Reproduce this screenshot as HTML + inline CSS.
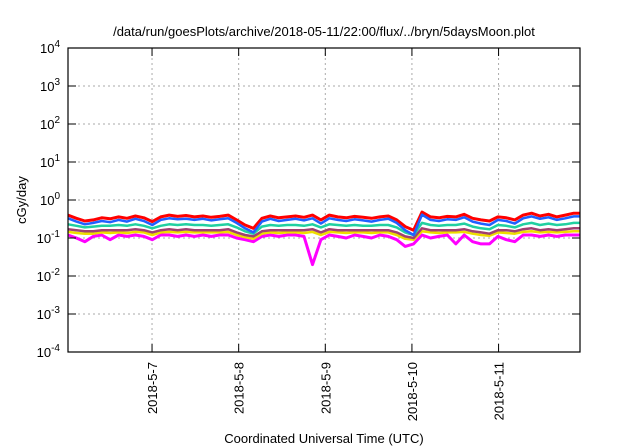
<!DOCTYPE html>
<html><head><meta charset="utf-8"><style>
body{margin:0;background:#fff}
svg{display:block;font-family:"Liberation Sans",sans-serif}
</style></head><body>
<svg id="c" width="640" height="448">
<text x="324" y="36" text-anchor="middle" font-size="13">/data/run/goesPlots/archive/2018-05-11/22:00/flux/../bryn/5daysMoon.plot</text>
<text transform="translate(26,200) rotate(-90)" text-anchor="middle" font-size="13">cGy/day</text>
<text x="324" y="443" text-anchor="middle" font-size="13">Coordinated Universal Time (UTC)</text>
<g id="grid"></g><g id="series"></g><g id="axes"></g>
</svg>
<script>
const yTickExps=[-4,-3,-2,-1,0,1,2,3,4];
const xTickDays=[7,8,9,10,11];
const xTickLabels=["2018-5-7","2018-5-8","2018-5-9","2018-5-10","2018-5-11"];
const tStart=6.03, tStep=0.0973, tEnd=11.94;
const red=[0.40,0.33,0.28,0.30,0.34,0.32,0.36,0.33,0.38,0.34,0.27,0.36,0.40,0.37,0.39,0.36,0.38,0.35,0.37,0.40,0.30,0.22,0.18,0.33,0.38,0.34,0.36,0.38,0.35,0.40,0.30,0.40,0.36,0.34,0.37,0.35,0.33,0.36,0.38,0.30,0.20,0.16,0.48,0.36,0.34,0.37,0.36,0.42,0.33,0.30,0.28,0.36,0.34,0.30,0.40,0.45,0.38,0.42,0.36,0.40,0.45];
const blue=[0.33,0.27,0.23,0.25,0.28,0.26,0.30,0.27,0.32,0.28,0.22,0.30,0.33,0.31,0.32,0.30,0.32,0.29,0.31,0.33,0.25,0.18,0.14,0.27,0.32,0.28,0.30,0.32,0.29,0.33,0.24,0.33,0.30,0.28,0.31,0.29,0.27,0.30,0.32,0.25,0.16,0.12,0.41,0.30,0.28,0.31,0.30,0.35,0.27,0.24,0.22,0.30,0.28,0.24,0.33,0.37,0.32,0.35,0.30,0.33,0.37];
const teal=[0.23,0.21,0.19,0.20,0.21,0.21,0.22,0.21,0.23,0.21,0.18,0.21,0.23,0.22,0.23,0.22,0.22,0.21,0.22,0.23,0.19,0.15,0.13,0.20,0.22,0.21,0.22,0.22,0.21,0.23,0.19,0.23,0.22,0.21,0.22,0.21,0.21,0.22,0.22,0.19,0.14,0.12,0.25,0.22,0.21,0.22,0.22,0.24,0.20,0.18,0.17,0.22,0.21,0.19,0.23,0.25,0.22,0.24,0.22,0.23,0.25];
const purple=[0.17,0.16,0.15,0.15,0.16,0.16,0.16,0.16,0.17,0.16,0.14,0.16,0.17,0.16,0.17,0.16,0.16,0.16,0.16,0.17,0.14,0.12,0.11,0.15,0.16,0.16,0.16,0.16,0.16,0.17,0.14,0.17,0.16,0.16,0.16,0.16,0.16,0.16,0.16,0.14,0.11,0.10,0.18,0.16,0.16,0.16,0.16,0.17,0.15,0.14,0.13,0.16,0.16,0.15,0.17,0.18,0.16,0.17,0.16,0.17,0.18];
const yellow=[0.145,0.135,0.13,0.13,0.14,0.135,0.14,0.135,0.145,0.14,0.12,0.14,0.145,0.14,0.145,0.14,0.14,0.14,0.14,0.145,0.12,0.105,0.095,0.13,0.14,0.135,0.14,0.14,0.135,0.145,0.12,0.145,0.14,0.135,0.14,0.14,0.135,0.14,0.14,0.12,0.095,0.09,0.15,0.14,0.135,0.14,0.14,0.145,0.13,0.12,0.115,0.14,0.135,0.13,0.145,0.15,0.14,0.145,0.14,0.145,0.15];
const magenta=[0.12,0.10,0.08,0.11,0.12,0.09,0.12,0.11,0.12,0.11,0.09,0.12,0.12,0.11,0.12,0.11,0.12,0.11,0.12,0.12,0.10,0.09,0.08,0.11,0.12,0.11,0.12,0.12,0.11,0.02,0.09,0.12,0.11,0.10,0.12,0.11,0.10,0.12,0.11,0.09,0.06,0.07,0.12,0.10,0.11,0.12,0.07,0.12,0.08,0.07,0.07,0.11,0.09,0.08,0.12,0.12,0.11,0.12,0.11,0.12,0.12];
const L=68,R=580,T=48,B=352;
const X=t=>L+(t-tStart)/(tEnd-tStart)*(R-L);
const Y=v=>T+(4-Math.log10(v))/8*(B-T);
const NS="http://www.w3.org/2000/svg";
function mk(tag,attrs,parent){const e=document.createElementNS(NS,tag);for(const k in attrs)e.setAttribute(k,attrs[k]);parent.appendChild(e);return e;}
const grid=document.getElementById('grid'),axes=document.getElementById('axes'),ser=document.getElementById('series');
yTickExps.forEach(e=>{const y=Y(Math.pow(10,e));
 if(e>-4&&e<4){const g=mk('line',{x1:L,x2:R,y1:y,y2:y,stroke:'#aaa','stroke-dasharray':'2,3','stroke-width':1},grid);
 
 }
 const t1=mk('line',{x1:L,x2:L+8,y1:y,y2:y,stroke:'#000'},axes);
 
 
 const t2=mk('line',{x1:R-8,x2:R,y1:y,y2:y,stroke:'#000'},axes);
 
 
 const tx=mk('text',{x:L-8,y:y+5,'text-anchor':'end','font-size':13},axes);
 
 
 tx.innerHTML='10<tspan dy="-6" font-size="10">'+e+'</tspan>';
});
xTickDays.forEach((d,i)=>{const x=X(d);
 const g=mk('line',{x1:x,x2:x,y1:T,y2:B,stroke:'#aaa','stroke-dasharray':'2,3'},grid);
 
 
 const t1=mk('line',{x1:x,x2:x,y1:B-8,y2:B,stroke:'#000'},axes);
 
 
 const t2=mk('line',{x1:x,x2:x,y1:T,y2:T+8,stroke:'#000'},axes);
 
 
 const tx=mk('text',{transform:`translate(${x+5},362) rotate(-90)`,'text-anchor':'end','font-size':13},axes);
 
 
 tx.textContent=xTickLabels[i];
});
const fr=mk('rect',{x:L,y:T,width:R-L,height:B-T,fill:'none',stroke:'#000','stroke-width':1.2},axes);


const list=[[magenta,'#ff00ff','magenta-series',3],[yellow,'#eedd00','yellow-series',2.5],[purple,'#a04070','purple-series',2.5],[teal,'#20d0a0','teal-series',2.5],[red,'#ff0000','red-series',3],[blue,'#2060ff','blue-series',2.5]];
list.forEach(([arr,col,name,w])=>{
 const n=arr.length;
 const pts=arr.map((v,i)=>X(tStart+i*tStep).toFixed(1)+','+Y(v).toFixed(1));
 pts.push(X(tEnd).toFixed(1)+','+Y(arr[n-1]).toFixed(1));
 const p=mk('polyline',{points:pts.join(' '),fill:'none',stroke:col,'stroke-width':w,'stroke-linejoin':'round'},ser);
 
 
});
</script>
</body></html>
